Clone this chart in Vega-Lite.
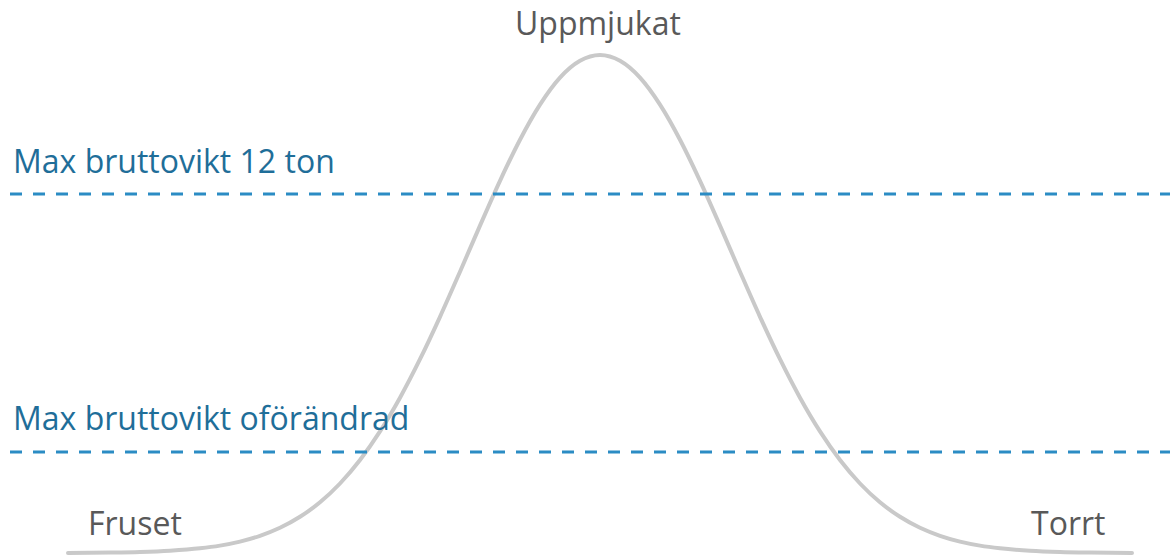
{
  "$schema": "https://vega.github.io/schema/vega-lite/v6.json",
  "width": 1176,
  "height": 557,
  "autosize": {"type": "none"},
  "padding": 0,
  "background": "white",
  "config": {"view": {"stroke": null}},
  "datasets": {
    "curve": [
      {"x": 68, "y": 4.1}, {"x": 110, "y": 4.46}, {"x": 140, "y": 5.05}, {"x": 170, "y": 6.3},
      {"x": 200, "y": 8.7}, {"x": 220, "y": 11.4}, {"x": 240, "y": 15.4}, {"x": 260, "y": 21.2},
      {"x": 280, "y": 29.2}, {"x": 300, "y": 40.2}, {"x": 320, "y": 54.7}, {"x": 340, "y": 73.5},
      {"x": 360, "y": 97.0}, {"x": 380, "y": 125.6}, {"x": 400, "y": 159.3}, {"x": 420, "y": 197.8},
      {"x": 440, "y": 240.2}, {"x": 460, "y": 285.3}, {"x": 480, "y": 331.4}, {"x": 500, "y": 376.2},
      {"x": 520, "y": 417.3}, {"x": 540, "y": 452.4}, {"x": 560, "y": 479.4}, {"x": 580, "y": 496.2},
      {"x": 600, "y": 502}, {"x": 620, "y": 496.2}, {"x": 640, "y": 479.4}, {"x": 660, "y": 452.4},
      {"x": 680, "y": 417.3}, {"x": 700, "y": 376.2}, {"x": 720, "y": 331.4}, {"x": 740, "y": 285.3},
      {"x": 760, "y": 240.2}, {"x": 780, "y": 197.8}, {"x": 800, "y": 159.3}, {"x": 820, "y": 125.6},
      {"x": 840, "y": 97.0}, {"x": 860, "y": 73.5}, {"x": 880, "y": 54.7}, {"x": 900, "y": 40.2},
      {"x": 920, "y": 29.2}, {"x": 940, "y": 21.2}, {"x": 960, "y": 15.4}, {"x": 980, "y": 11.4},
      {"x": 1000, "y": 8.7}, {"x": 1030, "y": 6.3}, {"x": 1060, "y": 5.05}, {"x": 1090, "y": 4.46},
      {"x": 1132, "y": 4.1}
    ],
    "limits": [
      {"name": "Max bruttovikt 12 ton", "x1": 10, "x2": 1170, "y": 363},
      {"name": "Max bruttovikt oförändrad", "x1": 10, "x2": 1170, "y": 105}
    ],
    "labels": [
      {"label": "Uppmjukat", "x": 515, "y": 522.5, "kind": "state"},
      {"label": "Max bruttovikt 12 ton", "x": 13, "y": 384, "kind": "limit"},
      {"label": "Max bruttovikt oförändrad", "x": 13, "y": 127, "kind": "limit"},
      {"label": "Fruset", "x": 88, "y": 22, "kind": "state"},
      {"label": "Torrt", "x": 1031, "y": 22, "kind": "state"}
    ]
  },
  "layer": [
    {
      "data": {"name": "curve"},
      "mark": {"type": "line", "color": "#C9C9C9", "strokeWidth": 4, "interpolate": "monotone", "strokeCap": "round"},
      "encoding": {
        "x": {"field": "x", "type": "quantitative", "scale": {"domain": [0, 1176], "nice": false, "zero": false}, "axis": null},
        "y": {"field": "y", "type": "quantitative", "scale": {"domain": [0, 557], "nice": false, "zero": false}, "axis": null}
      }
    },
    {
      "data": {"name": "limits"},
      "mark": {"type": "rule", "color": "#2B8CC4", "strokeWidth": 3, "strokeDash": [12, 11]},
      "encoding": {
        "x": {"field": "x1", "type": "quantitative", "scale": {"domain": [0, 1176], "nice": false, "zero": false}, "axis": null},
        "x2": {"field": "x2"},
        "y": {"field": "y", "type": "quantitative", "scale": {"domain": [0, 557], "nice": false, "zero": false}, "axis": null}
      }
    },
    {
      "data": {"name": "labels"},
      "mark": {"type": "text", "align": "left", "baseline": "alphabetic", "font": "Open Sans", "fontSize": 32},
      "encoding": {
        "x": {"field": "x", "type": "quantitative", "scale": {"domain": [0, 1176], "nice": false, "zero": false}, "axis": null},
        "y": {"field": "y", "type": "quantitative", "scale": {"domain": [0, 557], "nice": false, "zero": false}, "axis": null},
        "text": {"field": "label"},
        "color": {"field": "kind", "type": "nominal", "scale": {"domain": ["state", "limit"], "range": ["#595959", "#1F6E99"]}, "legend": null}
      }
    }
  ]
}
